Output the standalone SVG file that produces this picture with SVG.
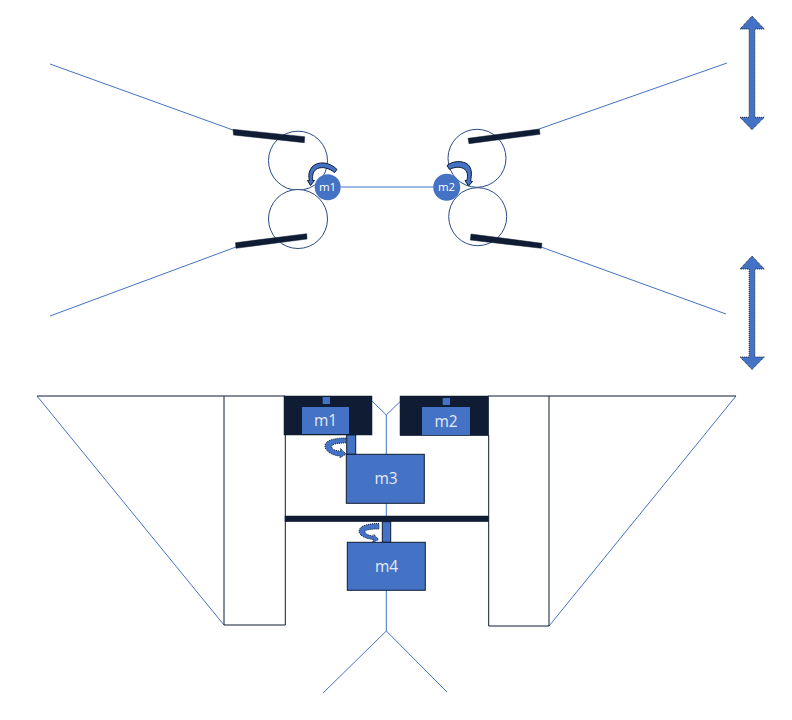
<svg xmlns="http://www.w3.org/2000/svg" width="792" height="720" viewBox="0 0 792 720">
<style>
.wire{fill:none;stroke:#4472c4;stroke-width:1}
.ring{fill:#fff;stroke:#2a4a85;stroke-width:1}
.navy{fill:#0f1c33;stroke:#0f1c33;stroke-width:.5}
.frame{fill:none;stroke:#0f1c33;stroke-width:1}
.blue{fill:#4472c4}
.box{fill:#4472c4;stroke:#0f1c33;stroke-width:1}
.dot{fill:#4472c4;stroke:#0f1c33;stroke-width:1;stroke-dasharray:1 1}
.t{font-family:"Open Sans","Liberation Sans",sans-serif;fill:#e6ebf5;text-anchor:middle}
.big{font-size:15.5px}
.small{font-size:11.500px;font-weight:500;fill:#fff}
</style>
<g id="connectors">
<path class="wire" d="M50 64L233 130M539 129L727 63M50 316L236 247M541 247L726 314M341 187H433"/>
<path class="wire" d="M37 396L224 625M736 396L549 626"/>
<path class="wire" d="M372 401L386.300 415L400 401.700M386.300 415V454M386.300 503V631M323 693L386.300 631L447 692"/>
</g>
<g id="roller-left-top"><circle class="ring" cx="298" cy="160.700" r="29.500"/></g>
<g id="roller-left-bottom"><circle class="ring" cx="298" cy="219" r="29.500"/></g>
<g id="roller-right-top"><circle class="ring" cx="477" cy="158.300" r="29"/></g>
<g id="roller-right-bottom"><circle class="ring" cx="477.700" cy="216.700" r="29"/></g>
<g id="blade-left-top"><polygon class="navy" points="233,129.300 304.700,136.700 304.300,142.700 233.500,135"/></g>
<g id="blade-left-bottom"><polygon class="navy" points="235.500,242.700 306.700,233.700 307,239 236,248.300"/></g>
<g id="blade-right-top"><polygon class="navy" points="468,138.300 539.300,129 540,134.300 469,143.700"/></g>
<g id="blade-right-bottom"><polygon class="navy" points="471,234 542,243.300 541.300,248.300 470.300,240"/></g>
<g id="motor-m1-top">
<circle class="blue" cx="327.700" cy="187.300" r="13"/>
<text class="t small" x="327.500" y="191.300">m1</text>
<path class="box" d="M337 169.500C330 162 318 160.500 312 167C308.500 171.500 308.300 176 309.500 180.500L307.500 180.500L310.500 185.500L314.500 180.500L312.800 180.500C311.800 175 313.500 170.500 317.500 168.500C322.500 166.500 329 168 334.500 172.500Z"/>
</g>
<g id="motor-m2-top">
<circle class="blue" cx="446.700" cy="187.300" r="13.500"/>
<text class="t small" x="446.500" y="191.300">m2</text>
<path class="box" d="M447 165.500C453 160.500 463 160.500 468 164.500C472 168.500 472 175 470.500 181L472.500 181.500L468.500 186L465 180.500L466.800 180.500C468.300 175 467.500 171 463.500 168.500C459.500 166.500 454 167 449.500 169.500Z"/>
</g>
<g id="frame-left"><path class="frame" d="M37 396H224V625H285.300V435M224 396H285"/></g>
<g id="frame-right"><path class="frame" d="M736 396H549V626H488.700V435M549 396H488"/></g>
<g id="motor-m1">
<rect class="navy" x="284" y="396" width="88" height="39"/>
<rect class="blue" x="302" y="407" width="47" height="27"/>
<rect class="blue" x="322.700" y="397" width="7.300" height="7"/>
<text class="t big" x="325.500" y="426">m1</text>
</g>
<g id="motor-m2">
<rect class="navy" x="400" y="396" width="88.700" height="39.700"/>
<rect class="blue" x="422" y="407" width="48" height="28"/>
<rect class="blue" x="442.700" y="398" width="7.300" height="7"/>
<text class="t big" x="446" y="426.500">m2</text>
</g>
<g id="motor-m3">
<rect class="box" x="346.700" y="435" width="9" height="19.300"/>
<rect class="box" x="346.300" y="454.300" width="78" height="49"/>
<text class="t big" x="386" y="484">m3</text>
<path class="dot" d="M345.700 438C335 438 325 440 325 446C325 451 332 455.500 340 456L340 457.800L346 454L340.500 448.500L340.500 451C335 451 331.500 449 331.500 446.500C332 444 338 443 345.700 443Z"/>
</g>
<g id="crossbar"><rect class="navy" x="285" y="516" width="203.500" height="5.700"/></g>
<g id="motor-m4">
<rect class="box" x="382.300" y="521.700" width="8.400" height="20.600"/>
<rect class="box" x="347.300" y="542.300" width="78" height="48"/>
<text class="t big" x="386.500" y="572">m4</text>
<path class="dot" d="M379 523.500C370 523.500 359.500 525 359 531C359 535.500 365 538.500 373 539.500L373 542.300L378.500 539.500L374 534.500L373.500 536C368 535.500 365 533.500 365 531.500C366 529.500 372 529 379 529Z"/>
</g>
<g id="arrow-upper"><polygon class="dot" points="752,16 764.300,29 754.800,29 754.800,117.300 764.300,117.300 752,129.700 740,117.300 749.200,117.300 749.200,29 740,29"/></g>
<g id="arrow-lower"><polygon class="dot" points="752,256 764.300,269 754.800,269 754.800,357 764.300,357 752,369.500 740,357 749.200,357 749.200,269 740,269"/></g>
</svg>
